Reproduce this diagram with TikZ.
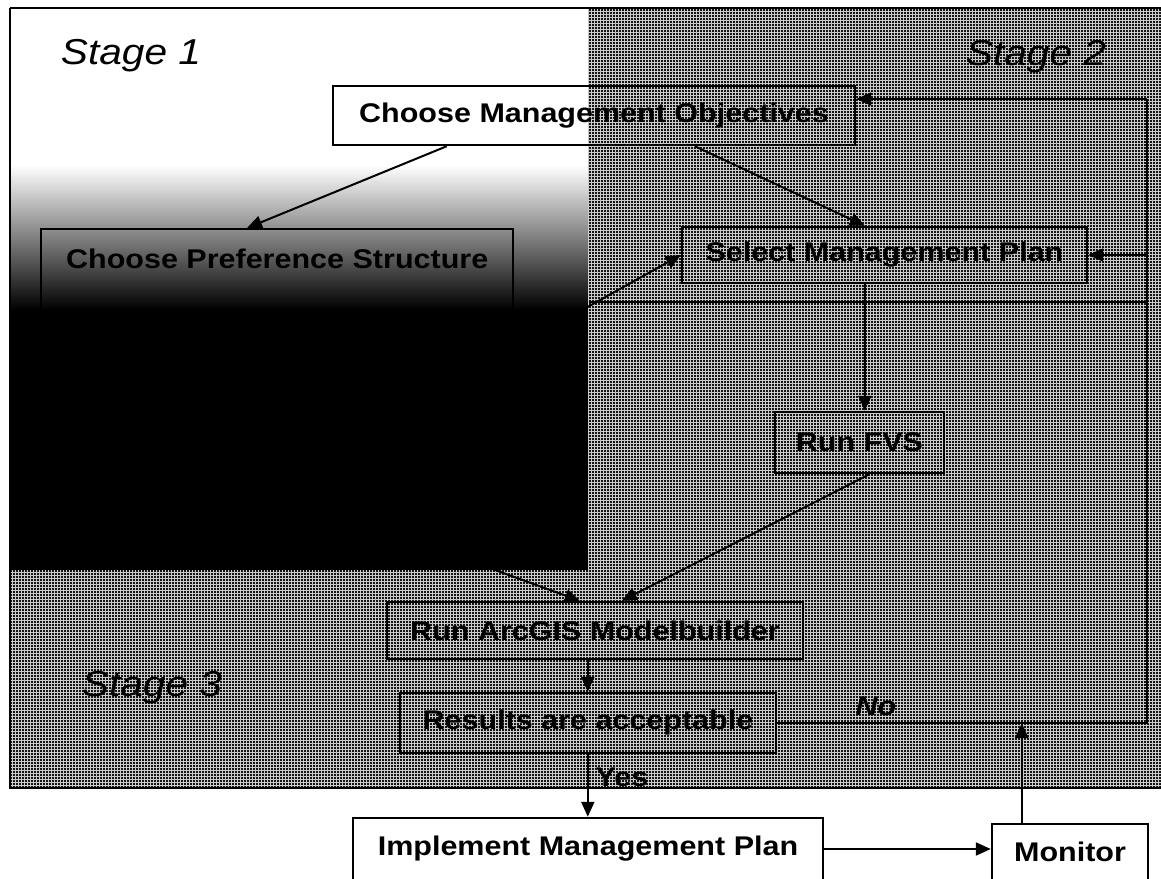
\documentclass[tikz,border=0pt]{standalone}
\usepackage{fontspec}
\setmainfont[FakeStretch=1.13]{Liberation Sans}
\usetikzlibrary{arrows.meta,patterns}

\newcommand{\boxfont}{\fontsize{27}{32}\selectfont\bfseries}
\newcommand{\stagefont}{\fontsize{36}{42}\selectfont\itshape}

\tikzset{
  stepbox/.style={draw=black, line width=2.4pt, inner sep=0pt, font=\boxfont},
  flow/.style={line width=2pt, -{Triangle[length=15pt,width=13pt]}},
  hatch/.style={fill=black!92},
  hatchgrid/.style={pattern=grid, pattern color=white!80!black},
  stagelabel/.style={font=\stagefont},
  answer/.style={font=\boxfont},
}

\begin{document}
\begin{tikzpicture}[x=1pt,y=-1pt]
\useasboundingbox (0,0) rectangle (1161,878);
\fill[white] (0,0) rectangle (1161,878);

% stage 1 panel
\shade[top color=white, bottom color=black] (10,165) rectangle (588,310);
\fill[black] (10,309) rectangle (588,570);
% stage 2 and 3 panels
\fill[hatch] (588,8) rectangle (1161,570);
\fill[hatchgrid] (588,8) rectangle (1161,570);
\fill[hatch] (10,570) rectangle (1161,788);
\fill[hatchgrid] (10,570) rectangle (1161,788);
\draw[line width=1.5pt] (10,8) -- (1161,8);
\draw[line width=2pt] (10,8) -- (10,788) -- (1161,788);
\draw[line width=1.5pt] (589,302) -- (1148,302);

\node[stagelabel] (st1) at (131,56) {Stage 1};
\node[stagelabel] (st2) at (1036,57) {Stage 2};
\node[stagelabel] (st3) at (152,688) {Stage 3};

\node[stepbox, minimum width=522pt, minimum height=59pt] (cmo) at (594,115.5) {Choose Management Objectives};
\node[stepbox, anchor=north west, minimum width=472pt, text height=39pt, text depth=53pt] (cps) at (40,228) {Choose Preference Structure};
\node[stepbox, minimum width=405pt, minimum height=56pt] (sel) at (884.5,255) {Select Management Plan};
\node[stepbox, minimum width=169pt, minimum height=61pt] (fvs) at (859.5,442.5) {Run FVS};
\node[stepbox, minimum width=416pt, minimum height=57pt] (gis) at (595,630.5) {Run ArcGIS Modelbuilder};
\node[stepbox, minimum width=376pt, minimum height=60pt] (res) at (588,723) {Results are acceptable};
\node[stepbox, minimum width=470pt, minimum height=62pt] (imp) at (588,849) {Implement Management Plan};
\node[stepbox, minimum width=156pt, minimum height=56pt] (mon) at (1070,852) {Monitor};

\node[answer, font=\boxfont\itshape] (no) at (876,706) {No};
\node[answer] (yes) at (622,777) {Yes};

\coordinate (s1sel) at (575,314);
\coordinate (s1gis) at (440,550);
\coordinate (fbbot) at (1147,723);
\coordinate (fbtop) at (1147,99);

\draw[flow] ([xshift=115pt]cmo.south west) -- ([xshift=207pt]cps.north west);
\draw[flow] ([xshift=363pt]cmo.south west) -- ([xshift=184pt]sel.north west);
\draw[flow] (s1sel) -- (sel.west);
\draw[flow] ([xshift=184pt]sel.south west) -- ([xshift=184pt]sel.south west |- fvs.north);
\draw[flow] ([xshift=10pt]fvs.south) -- ([xshift=236pt]gis.north west);
\draw[flow] (s1gis) -- ([xshift=194pt]gis.north west);
\draw[flow] ([xshift=202pt]gis.south west) -- ([xshift=202pt]gis.south west |- res.north);
\draw[flow] ([xshift=189pt]res.south west) -- ([xshift=189pt]res.south west |- imp.north);
\draw[flow] (imp.east) -- (imp.east -| mon.west);
\draw[flow] ([xshift=31pt]mon.north west) -- ([xshift=31pt]mon.north west |- fbbot);

% loop back when results are not acceptable
\draw[line width=2pt] (res.east) -- (fbbot) -- (fbtop);
\draw[flow] (fbtop) -- (cmo.east |- fbtop);
\draw[flow] (sel.east -| fbtop) -- (sel.east);
\end{tikzpicture}
\end{document}
